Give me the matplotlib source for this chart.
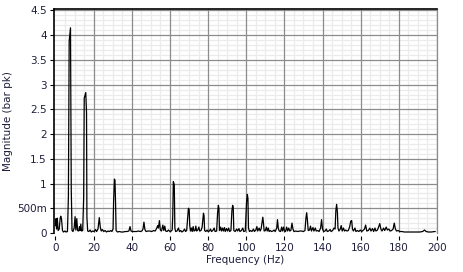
import matplotlib
matplotlib.use("Agg")
import matplotlib.pyplot as plt
from matplotlib.ticker import FixedLocator

freq = [0.0, 0.3, 0.6, 1.0, 1.4, 2.0, 2.5, 2.8, 3.2, 3.7, 4.2, 5.0, 5.6, 6.3, 6.8, 7.2, 7.9, 8.3, 8.7,
        9.2, 9.8, 10.3, 10.7, 11.2, 11.6, 12.2, 12.6, 13.0, 13.3, 13.7, 14.3, 14.8, 15.1, 15.9, 16.3, 16.5,
        16.9, 17.5, 18.2, 18.8, 19.5, 20.3, 21.0, 21.6, 22.3, 23.0, 23.5, 24.0, 24.6, 25.3, 26.0, 26.8,
        27.5, 28.3, 29.0, 29.6, 30.2, 30.5, 30.9, 31.2, 31.5, 31.8, 32.5, 33.5, 34.5, 35.5, 36.5, 37.5,
        38.5, 39.1, 39.6, 40.5, 41.5, 42.5, 43.5, 44.5, 45.3, 45.9, 46.4, 46.9, 47.5, 48.5, 49.5, 50.5,
        51.5, 52.3, 53.0, 53.6, 54.0, 54.5, 55.0, 55.6, 56.3, 56.8, 57.3, 57.8, 58.5, 59.3, 60.0, 60.7,
        61.2, 61.5, 61.8, 62.3, 62.6, 63.0, 63.7, 64.5, 65.0, 65.7, 66.3, 67.0, 67.7, 68.2, 68.8, 69.3,
        69.7, 70.1, 70.4, 70.8, 71.3, 71.7, 72.2, 72.6, 73.2, 73.6, 74.0, 74.6, 75.2, 75.6, 76.3, 76.9,
        77.3, 77.6, 77.9, 78.2, 78.8, 79.5, 80.0, 80.7, 81.3, 81.8, 82.5, 83.2, 83.7, 84.5, 85.0, 85.4,
        85.7, 86.0, 86.6, 87.0, 87.6, 88.0, 88.6, 89.0, 89.7, 90.2, 90.8, 91.3, 92.0, 92.5, 92.9, 93.2,
        93.5, 94.2, 95.0, 95.5, 96.2, 96.7, 97.5, 98.2, 98.7, 99.5, 100.2, 100.6, 100.9, 101.2, 101.7,
        102.3, 103.0, 103.8, 104.3, 105.0, 105.6, 106.0, 106.8, 107.3, 107.8, 108.4, 108.7, 109.0, 109.4,
        110.0, 110.6, 111.0, 111.6, 112.0, 112.6, 113.3, 114.0, 114.6, 115.2, 116.0, 116.4, 116.8, 117.3,
        118.0, 118.6, 119.0, 119.6, 120.0, 120.6, 121.2, 121.7, 122.3, 122.8, 123.4, 124.0, 124.5, 125.0,
        126.0, 127.0, 128.0, 129.0, 130.0, 130.8, 131.3, 131.7, 132.1, 132.5, 133.2, 133.7, 134.2, 135.0,
        135.5, 136.2, 136.7, 137.5, 138.2, 139.0, 139.5, 140.0, 140.6, 141.3, 142.0, 142.5, 143.2, 144.0,
        144.5, 145.3, 146.0, 146.6, 147.0, 147.4, 147.8, 148.1, 148.6, 149.3, 149.8, 150.3, 151.0, 151.5,
        152.2, 152.8, 153.5, 154.2, 154.8, 155.3, 155.7, 156.2, 157.0, 157.5, 158.3, 159.0, 159.8, 160.5,
        161.2, 162.0, 162.6, 163.2, 164.0, 164.8, 165.4, 166.2, 166.8, 167.5, 168.0, 168.8, 169.4, 170.0,
        170.6, 171.2, 172.0, 172.6, 173.4, 174.0, 174.8, 175.4, 176.2, 177.0, 177.6, 178.2, 178.8, 179.6,
        180.5, 181.5, 183.0, 185.0, 187.0, 189.0, 191.0, 192.5, 193.5, 194.3, 195.5, 197.0, 199.0]

mag = [0.15, 0.29, 0.08, 0.30, 0.05, 0.08, 0.30, 0.34, 0.28, 0.05, 0.02, 0.04, 0.02, 0.03, 0.73, 3.88, 4.15, 0.86, 0.05,
       0.03, 0.10, 0.33, 0.06, 0.29, 0.05, 0.04, 0.13, 0.05, 0.18, 0.04, 0.05, 0.72, 2.73, 2.84, 2.43, 0.32,
       0.04, 0.03, 0.06, 0.02, 0.04, 0.03, 0.07, 0.03, 0.08, 0.31, 0.12, 0.04, 0.07, 0.03, 0.05, 0.02,
       0.04, 0.03, 0.05, 0.03, 0.08, 0.64, 1.09, 1.07, 0.64, 0.05, 0.02, 0.03, 0.02, 0.02, 0.03, 0.03,
       0.04, 0.13, 0.04, 0.03, 0.03, 0.03, 0.04, 0.03, 0.04, 0.08, 0.22, 0.07, 0.03, 0.04, 0.04, 0.03,
       0.05, 0.04, 0.09, 0.15, 0.10, 0.25, 0.06, 0.04, 0.16, 0.05, 0.14, 0.04, 0.03, 0.06, 0.03, 0.04,
       0.06, 0.35, 1.04, 0.98, 0.10, 0.03, 0.04, 0.10, 0.03, 0.05, 0.02, 0.04, 0.08, 0.03, 0.05, 0.30,
       0.50, 0.48, 0.15, 0.04, 0.10, 0.03, 0.13, 0.04, 0.05, 0.14, 0.04, 0.06, 0.12, 0.04, 0.05, 0.12,
       0.28, 0.40, 0.35, 0.05, 0.03, 0.06, 0.03, 0.04, 0.08, 0.03, 0.05, 0.10, 0.03, 0.04, 0.40, 0.56,
       0.50, 0.05, 0.12, 0.04, 0.10, 0.04, 0.11, 0.03, 0.09, 0.04, 0.10, 0.03, 0.05, 0.45, 0.56, 0.52,
       0.05, 0.03, 0.08, 0.04, 0.09, 0.03, 0.05, 0.10, 0.03, 0.04, 0.63, 0.78, 0.70, 0.10, 0.03,
       0.05, 0.03, 0.08, 0.03, 0.06, 0.13, 0.04, 0.10, 0.04, 0.08, 0.25, 0.32, 0.22, 0.04,
       0.05, 0.12, 0.04, 0.10, 0.03, 0.05, 0.03, 0.04, 0.06, 0.03, 0.10, 0.27, 0.10, 0.04,
       0.03, 0.12, 0.04, 0.12, 0.04, 0.03, 0.12, 0.04, 0.10, 0.04, 0.05, 0.20, 0.08, 0.03,
       0.04, 0.03, 0.04, 0.04, 0.03, 0.05, 0.30, 0.41, 0.25, 0.05, 0.06, 0.14, 0.04, 0.11,
       0.04, 0.10, 0.04, 0.05, 0.03, 0.10, 0.27, 0.08, 0.03, 0.04, 0.08, 0.03, 0.04, 0.07,
       0.03, 0.05, 0.10, 0.08, 0.46, 0.58, 0.42, 0.10, 0.04, 0.08, 0.15, 0.04, 0.10, 0.04,
       0.06, 0.04, 0.05, 0.12, 0.24, 0.25, 0.08, 0.04, 0.10, 0.03, 0.05, 0.03, 0.06, 0.03,
       0.05, 0.08, 0.16, 0.04, 0.05, 0.10, 0.04, 0.09, 0.03, 0.10, 0.04, 0.06, 0.12, 0.19,
       0.08, 0.04, 0.10, 0.05, 0.12, 0.06, 0.08, 0.04, 0.05, 0.08, 0.20, 0.08, 0.04, 0.05,
       0.03, 0.03, 0.02, 0.02, 0.02, 0.02, 0.02, 0.03, 0.06, 0.03, 0.02, 0.02, 0.03]

x_ticks = [0, 20, 40, 60, 80, 100, 120, 140, 160, 180, 200]
y_ticks = [0, 0.5, 1, 1.5, 2, 2.5, 3, 3.5, 4, 4.5]
y_tick_labels = ["0", "500m", "1", "1.5", "2", "2.5", "3", "3.5", "4", "4.5"]

text_color = "#1e1e3c"
fig = plt.figure(figsize=(4.63, 2.72), dpi=100)
ax = fig.add_axes([0.1156, 0.1434, 0.8282, 0.8217])

ax.set_xlim(-1, 200)
ax.set_ylim(0, 4.52)

# grid: minor (5 Hz / 0.1) under major
for i in range(0, 41):
    if i % 4:
        ax.axvline(i * 5, color="#ebebeb", lw=0.9, zorder=0.5)
for i in range(0, 46):
    if i % 5:
        ax.axhline(i * 0.1, color="#ebebeb", lw=0.9, zorder=0.5)
for xv in x_ticks[1:]:
    ax.axvline(xv, color="#8c8c8c", lw=0.9, zorder=1)
for yv in y_ticks[1:]:
    ax.axhline(yv, color="#8c8c8c", lw=0.9, zorder=1)

ax.plot(freq, mag, color="black", lw=0.9, zorder=3)

ax.xaxis.set_major_locator(FixedLocator(x_ticks))
ax.yaxis.set_major_locator(FixedLocator(y_ticks))
ax.set_yticklabels(y_tick_labels)

ax.tick_params(which="major", length=3, width=0.8, color="black", labelsize=7.5,
               labelcolor=text_color, pad=2)

for s in ["top", "left"]:
    ax.spines[s].set_color("black")
    ax.spines[s].set_linewidth(1.2)
ax.spines["right"].set_color("#8c8c8c")
ax.spines["right"].set_linewidth(0.9)
ax.spines["bottom"].set_position(("outward", 2))
ax.spines["bottom"].set_color("none")

ax.set_xlabel("Frequency (Hz)", fontsize=7.5, color=text_color, labelpad=2)
ax.set_ylabel("Magnitude (bar pk)", fontsize=7.5, color=text_color)
ax.yaxis.set_label_coords(-0.105, 0.5)

fig.savefig("out.png", dpi=100, facecolor="white")
